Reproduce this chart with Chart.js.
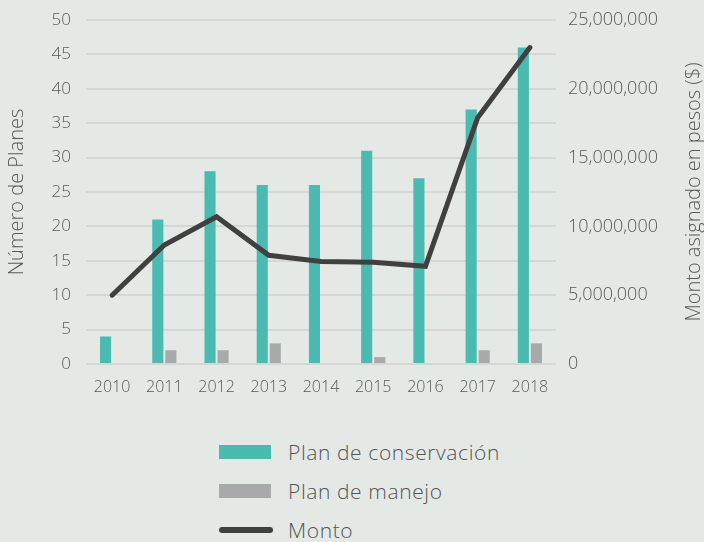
<!DOCTYPE html>
<html>
<head>
<meta charset="utf-8">
<script src="https://cdn.jsdelivr.net/npm/chart.js@4/dist/chart.umd.min.js"></script>
<style>
  body { margin: 0; background: #e5e9e6; font-family: 'Open Sans', sans-serif; }
  #wrap { position: relative; width: 704px; height: 405px; }
  #legend { position: absolute; left: 219px; top: 432px; }
  .item { height: 39px; display: flex; align-items: center; color: #555; font-size: 21px; font-weight: 300; letter-spacing: 0.6px; }
  .swatch { width: 52px; height: 14px; margin-right: 17px; }
  .lineSwatch { width: 54px; height: 6px; border-radius: 3px; margin-right: 15px; }
</style>
</head>
<body>
<div id="wrap"><canvas id="chart" width="704" height="405"></canvas></div>
<div id="legend"></div>
<script>
// Chart data
const years = ['2010', '2011', '2012', '2013', '2014', '2015', '2016', '2017', '2018'];
const conservacion = [4, 21, 28, 26, 26, 31, 27, 37, 46];
const manejo = [0, 2, 2, 3, 0, 1, 0, 2, 3];
const monto = [5000000, 8650000, 10700000, 7900000, 7450000, 7400000, 7100000, 17900000, 23000000];

const leftTitle = 'Número de Planes';
const rightTitle = 'Monto asignado en pesos ($)';

const TEAL = '#4bbab1';
const GRAY = '#a8a9ab';
const DARK = '#404040';
const TEXT = '#595959';
const GRID = '#d4d7d5';

// Both axis titles read bottom-to-top, so draw them here
const axisTitles = {
    id: 'axisTitles',
    afterDraw(chart) {
        const c = chart.ctx;
        const area = chart.chartArea;
        const midY = (area.top + area.bottom) / 2;
        c.save();
        c.fillStyle = TEXT;
        c.font = '300 20px "Open Sans"';
        c.textAlign = 'center';
        c.textBaseline = 'middle';
        [[17, leftTitle], [694, rightTitle]].forEach(([x, text]) => {
            c.save();
            c.translate(x, midY);
            c.rotate(-Math.PI / 2);
            c.fillText(text, 0, 0);
            c.restore();
        });
        c.restore();
    }
};

// keep the plot top fixed by the layout padding, not by tick label overhang
const fixY = width => scale => {
    scale.width = width;
    scale.paddingTop = 0;
    scale.paddingBottom = 0;
};

const ctx = document.getElementById('chart').getContext('2d');
const chart = new Chart(ctx, {
    type: 'bar',
    data: {
        labels: years,
        datasets: [
            {
                type: 'line',
                label: 'Monto',
                data: monto,
                yAxisID: 'y2',
                borderColor: DARK,
                borderWidth: 5,
                borderCapStyle: 'round',
                pointRadius: 0,
                tension: 0,
                order: 0
            },
            {
                label: 'Plan de conservación',
                data: conservacion,
                backgroundColor: TEAL,
                yAxisID: 'y',
                categoryPercentage: 0.5,
                barPercentage: 0.85,
                order: 1
            },
            {
                label: 'Plan de manejo',
                data: manejo,
                backgroundColor: GRAY,
                yAxisID: 'y',
                categoryPercentage: 0.5,
                barPercentage: 0.85,
                order: 1
            }
        ]
    },
    options: {
        responsive: false,
        animation: false,
        layout: { padding: { top: 20, bottom: 0 } },
        plugins: {
            legend: { display: false },
            tooltip: { enabled: false }
        },
        scales: {
            x: {
                grid: { display: false },
                border: { display: false },
                ticks: { color: TEXT, font: { family: 'Open Sans', size: 16, weight: 300 }, padding: 6 },
                afterFit: scale => { scale.height = 41; }
            },
            y: {
                position: 'left',
                min: 0,
                max: 50,
                ticks: { stepSize: 5, color: TEXT, font: { family: 'Open Sans', size: 17, weight: 300 }, padding: 15 },
                grid: { color: GRID, lineWidth: 2, drawTicks: false },
                border: { display: false },
                afterFit: fixY(86)
            },
            y2: {
                position: 'right',
                min: 0,
                max: 25000000,
                ticks: {
                    stepSize: 5000000,
                    color: TEXT,
                    font: { family: 'Open Sans', size: 18, weight: 300 },
                    padding: 4,
                    callback: v => v === 0 ? '0' : v.toLocaleString('en-US')
                },
                grid: { display: false },
                border: { display: false },
                afterFit: fixY(148)
            }
        }
    },
    plugins: [axisTitles]
});

// HTML legend, one item per row
const legendEl = document.getElementById('legend');
[chart.data.datasets[1], chart.data.datasets[2], chart.data.datasets[0]].forEach(ds => {
    const row = document.createElement('div');
    row.className = 'item';
    const sw = document.createElement('span');
    if (ds.type === 'line') {
        sw.className = 'lineSwatch';
        sw.style.background = ds.borderColor;
    } else {
        sw.className = 'swatch';
        sw.style.background = ds.backgroundColor;
    }
    row.appendChild(sw);
    row.appendChild(document.createTextNode(ds.label));
    legendEl.appendChild(row);
});
</script>
</body>
</html>
